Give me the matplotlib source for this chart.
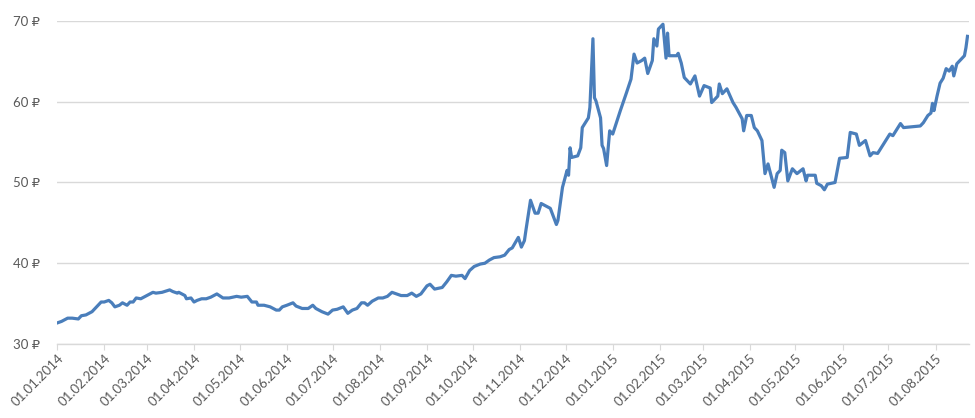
import matplotlib
matplotlib.use("Agg")
import matplotlib.pyplot as plt
import matplotlib.dates as mdates
import pandas as pd

dates = [
    "2014-01-01", "2014-01-04", "2014-01-08", "2014-01-11", "2014-01-15", "2014-01-17", "2014-01-20",
    "2014-01-24", "2014-01-27", "2014-01-30", "2014-02-01", "2014-02-04", "2014-02-06", "2014-02-08",
    "2014-02-11", "2014-02-13", "2014-02-16", "2014-02-18", "2014-02-20", "2014-02-22", "2014-02-25",
    "2014-03-01", "2014-03-05", "2014-03-07", "2014-03-11", "2014-03-16", "2014-03-18", "2014-03-21",
    "2014-03-22", "2014-03-26", "2014-03-27", "2014-03-30", "2014-04-01", "2014-04-03", "2014-04-06",
    "2014-04-09", "2014-04-12", "2014-04-16", "2014-04-20", "2014-04-24", "2014-04-29", "2014-05-02",
    "2014-05-06", "2014-05-09", "2014-05-12", "2014-05-13", "2014-05-17", "2014-05-21", "2014-05-25",
    "2014-05-27", "2014-05-29", "2014-06-01", "2014-06-05", "2014-06-07", "2014-06-11", "2014-06-15",
    "2014-06-18", "2014-06-20", "2014-06-24", "2014-06-28", "2014-07-01", "2014-07-04", "2014-07-08",
    "2014-07-11", "2014-07-14", "2014-07-17", "2014-07-20", "2014-07-22", "2014-07-24", "2014-07-27",
    "2014-07-31", "2014-08-03", "2014-08-06", "2014-08-09", "2014-08-12", "2014-08-15", "2014-08-19",
    "2014-08-22", "2014-08-25", "2014-08-28", "2014-09-01", "2014-09-03", "2014-09-06", "2014-09-11",
    "2014-09-14", "2014-09-17", "2014-09-20", "2014-09-24", "2014-09-26", "2014-09-29", "2014-10-02",
    "2014-10-06", "2014-10-09", "2014-10-12", "2014-10-15", "2014-10-19", "2014-10-22", "2014-10-25",
    "2014-10-27", "2014-10-31", "2014-11-02", "2014-11-04", "2014-11-05", "2014-11-08", "2014-11-11",
    "2014-11-13", "2014-11-15", "2014-11-21", "2014-11-25", "2014-11-26", "2014-11-29", "2014-12-02",
    "2014-12-03", "2014-12-04", "2014-12-05", "2014-12-09", "2014-12-11", "2014-12-12", "2014-12-16",
    "2014-12-17", "2014-12-19", "2014-12-20", "2014-12-21", "2014-12-24", "2014-12-25", "2014-12-26",
    "2014-12-28", "2014-12-30", "2015-01-01", "2015-01-06", "2015-01-10", "2015-01-13", "2015-01-15",
    "2015-01-17", "2015-01-20", "2015-01-22", "2015-01-24", "2015-01-27", "2015-01-28", "2015-01-30",
    "2015-01-31", "2015-02-03", "2015-02-05", "2015-02-06", "2015-02-07", "2015-02-12", "2015-02-13",
    "2015-02-15", "2015-02-17", "2015-02-21", "2015-02-24", "2015-02-27", "2015-03-02", "2015-03-06",
    "2015-03-07", "2015-03-11", "2015-03-12", "2015-03-14", "2015-03-17", "2015-03-21", "2015-03-23",
    "2015-03-27", "2015-03-28", "2015-03-30", "2015-04-02", "2015-04-04", "2015-04-06", "2015-04-09",
    "2015-04-11", "2015-04-13", "2015-04-17", "2015-04-19", "2015-04-21", "2015-04-22", "2015-04-24",
    "2015-04-26", "2015-04-29", "2015-05-02", "2015-05-06", "2015-05-08", "2015-05-09", "2015-05-14",
    "2015-05-15", "2015-05-18", "2015-05-20", "2015-05-22", "2015-05-27", "2015-05-30", "2015-06-04",
    "2015-06-06", "2015-06-10", "2015-06-12", "2015-06-16", "2015-06-19", "2015-06-21", "2015-06-24",
    "2015-06-28", "2015-07-02", "2015-07-04", "2015-07-09", "2015-07-11", "2015-07-22", "2015-07-24",
    "2015-07-27", "2015-07-29", "2015-07-30", "2015-07-31", "2015-08-02", "2015-08-04", "2015-08-06",
    "2015-08-08", "2015-08-10", "2015-08-12", "2015-08-13", "2015-08-15", "2015-08-17", "2015-08-20",
    "2015-08-21", "2015-08-22",
]

rates = [
    32.6, 32.8, 33.2, 33.2, 33.1, 33.5, 33.6,
    34.0, 34.6, 35.2, 35.2, 35.4, 35.1, 34.6,
    34.8, 35.1, 34.8, 35.2, 35.2, 35.7, 35.6,
    36.0, 36.4, 36.3, 36.4, 36.7, 36.5, 36.3,
    36.4, 36.0, 35.6, 35.7, 35.2, 35.4, 35.6,
    35.6, 35.8, 36.2, 35.7, 35.7, 35.9, 35.8,
    35.9, 35.2, 35.2, 34.8, 34.8, 34.6, 34.2,
    34.2, 34.6, 34.8, 35.1, 34.7, 34.4, 34.4,
    34.8, 34.4, 34.0, 33.7, 34.2, 34.3, 34.6,
    33.8, 34.2, 34.4, 35.1, 35.1, 34.8, 35.3,
    35.7, 35.7, 35.9, 36.4, 36.2, 36.0, 36.0,
    36.3, 35.9, 36.2, 37.2, 37.4, 36.8, 37.0,
    37.7, 38.5, 38.4, 38.5, 38.1, 39.1, 39.6,
    39.9, 40.0, 40.4, 40.7, 40.8, 41.0, 41.7,
    41.9, 43.2, 42.0, 42.8, 44.1, 47.8, 46.2,
    46.2, 47.4, 46.8, 44.8, 45.3, 49.4, 51.5,
    50.9, 54.3, 53.1, 53.3, 54.3, 56.8, 58.0,
    59.3, 67.8, 60.5, 60.1, 58.0, 54.6, 54.2,
    52.1, 56.4, 56.0, 58.9, 61.1, 62.8, 65.9,
    64.8, 65.1, 65.4, 63.5, 65.1, 67.8, 66.9,
    69.0, 69.6, 65.4, 68.5, 65.7, 65.7, 66.0,
    64.8, 63.0, 62.2, 63.2, 60.7, 62.0, 61.7,
    59.9, 60.7, 62.2, 61.0, 61.6, 59.9, 59.3,
    57.9, 56.4, 58.3, 58.3, 56.8, 56.4, 55.2,
    51.1, 52.3, 49.4, 51.1, 51.5, 54.0, 53.7,
    50.2, 51.7, 51.1, 51.7, 50.2, 50.9, 50.9,
    49.9, 49.6, 49.1, 49.8, 50.0, 53.0, 53.1,
    56.2, 56.0, 54.6, 55.2, 53.3, 53.7, 53.6,
    54.8, 56.0, 55.8, 57.3, 56.8, 57.0, 57.4,
    58.3, 58.6, 59.8, 58.9, 60.7, 62.3, 62.9,
    64.1, 63.8, 64.4, 63.2, 64.7, 65.1, 65.7,
    66.7, 68.1,
]

y_ticks = [30, 40, 50, 60, 70]
y_tick_labels = ["30 ₽", "40 ₽", "50 ₽", "60 ₽", "70 ₽"]

plt.rcParams["font.family"] = ["Lato", "DejaVu Sans"]

W, H = 975, 418
fig = plt.figure(figsize=(W / 100, H / 100), dpi=100)
ax = fig.add_axes([57 / W, 1 - 344 / H, (969 - 57) / W, (344 - 21) / H])

x = pd.to_datetime(dates)
ax.plot(x, rates, color="#4A7EBB", lw=2.3, solid_joinstyle="round", zorder=3)

ax.set_ylim(30, 70)
ax.set_yticks(y_ticks)
ax.set_yticklabels(y_tick_labels)
ax.set_xlim(pd.Timestamp("2014-01-01"), pd.Timestamp("2015-08-23"))

ax.xaxis.set_major_locator(mdates.MonthLocator())
ax.xaxis.set_major_formatter(mdates.DateFormatter("%d.%m.%Y"))

ax.grid(axis="y", color="#D9D9D9", lw=1)
ax.set_axisbelow(True)
for s in ["top", "right", "left"]:
    ax.spines[s].set_visible(False)
ax.spines["bottom"].set_color("#D9D9D9")
ax.spines["bottom"].set_linewidth(1)

ax.tick_params(axis="y", length=0, pad=12, labelsize=9.5, labelcolor="#595959")
ax.tick_params(axis="x", length=4, color="#D9D9D9", pad=2, labelsize=9.5, labelcolor="#595959")
for lbl in ax.get_xticklabels():
    lbl.set_rotation(45)
    lbl.set_ha("right")
    lbl.set_rotation_mode("anchor")

fig.savefig("out.png", dpi=100)
